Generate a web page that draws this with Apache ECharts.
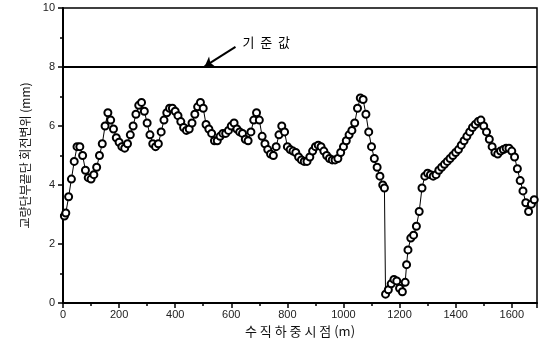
<!DOCTYPE html>
<html>
<head>
<meta charset="utf-8">
<script src="https://cdn.jsdelivr.net/npm/echarts@6/dist/echarts.min.js"></script>
<style>
  html, body { margin: 0; padding: 0; background: #fff; }
  #chart { width: 539px; height: 350px; }
</style>
</head>
<body>
<div id="chart"></div>
<script>
// 수직하중 위치 (m)
var positions = [
  5, 10, 20, 30, 40, 50, 60, 70, 80, 90,
  100, 110, 120, 130, 140, 150, 160, 170, 180, 190,
  200, 210, 220, 230, 240, 250, 260, 270, 280, 290,
  300, 310, 320, 330, 340, 350, 360, 370, 380, 390,
  400, 410, 420, 430, 440, 450, 460, 470, 480, 490,
  500, 510, 520, 530, 540, 550, 560, 570, 580, 590,
  600, 610, 620, 630, 640, 650, 660, 670, 680, 690,
  700, 710, 720, 730, 740, 750, 760, 770, 780, 790,
  800, 810, 820, 830, 840, 850, 860, 870, 880, 890,
  900, 910, 920, 930, 940, 950, 960, 970, 980, 990,
  1000, 1010, 1020, 1030, 1040, 1050, 1060, 1070, 1080, 1090,
  1100, 1110, 1120, 1130, 1140, 1146, 1150, 1160, 1170, 1180,
  1190, 1200, 1210, 1220, 1225, 1230, 1240, 1250, 1260, 1270,
  1280, 1290, 1300, 1310, 1320, 1330, 1340, 1350, 1360, 1370,
  1380, 1390, 1400, 1410, 1420, 1430, 1440, 1450, 1460, 1470,
  1480, 1490, 1500, 1510, 1520, 1530, 1540, 1550, 1560, 1570,
  1580, 1590, 1600, 1610, 1620, 1630, 1640, 1650, 1660, 1670, 1680
];
// 회전변위 (mm)
var rotation = [
  2.95, 3.05, 3.6, 4.2, 4.8, 5.3, 5.3, 5.0, 4.5, 4.25,
  4.2, 4.35, 4.6, 5.0, 5.4, 6.0, 6.45, 6.2, 5.9, 5.6,
  5.45, 5.3, 5.25, 5.4, 5.7, 6.0, 6.4, 6.7, 6.8, 6.5,
  6.1, 5.7, 5.4, 5.3, 5.4, 5.8, 6.2, 6.45, 6.6, 6.6,
  6.5, 6.35, 6.15, 5.95, 5.85, 5.9, 6.1, 6.4, 6.65, 6.8,
  6.6, 6.05, 5.9, 5.75, 5.5, 5.5, 5.65, 5.75, 5.75, 5.85,
  6.0, 6.1, 5.9, 5.8, 5.75, 5.55, 5.5, 5.8, 6.2, 6.45,
  6.2, 5.65, 5.4, 5.2, 5.05, 5.0, 5.3, 5.7, 6.0, 5.8,
  5.3, 5.2, 5.15, 5.1, 4.95, 4.85, 4.8, 4.8, 4.95, 5.15,
  5.3, 5.35, 5.3, 5.15, 5.0, 4.9, 4.85, 4.85, 4.9, 5.1,
  5.3, 5.5, 5.7, 5.85, 6.1, 6.6, 6.95, 6.9, 6.4, 5.8,
  5.3, 4.9, 4.6, 4.3, 4.0, 3.9, 0.3, 0.45, 0.65, 0.8,
  0.75, 0.5, 0.38, 0.7, 1.3, 1.8, 2.2, 2.3, 2.6, 3.1,
  3.9, 4.3, 4.4, 4.35, 4.3, 4.35, 4.5, 4.6, 4.7, 4.8,
  4.9, 5.0, 5.1, 5.2, 5.35, 5.5, 5.65, 5.8, 5.95, 6.05,
  6.15, 6.2, 6.0, 5.8, 5.55, 5.3, 5.1, 5.05, 5.15, 5.2,
  5.25, 5.25, 5.15, 4.95, 4.55, 4.15, 3.8, 3.4, 3.1, 3.35, 3.5
];
var xTicks = [0, 200, 400, 600, 800, 1000, 1200, 1400, 1600];
var yTicks = [0, 2, 4, 6, 8, 10];
var criterion = 8;

var points = [];
for (var i = 0; i < positions.length; i++) {
  points.push([positions[i], rotation[i]]);
}

var axisFont = { fontFamily: 'Liberation Sans', fontSize: 11, color: '#222' };

var myChart = echarts.init(document.getElementById('chart'));
var option = {
  animation: false,
  grid: {
    left: 63, right: 2, top: 8, bottom: 47,
    show: true, borderColor: '#000', borderWidth: 1.5
  },
  xAxis: {
    type: 'value',
    min: xTicks[0], max: 1690, interval: xTicks[1] - xTicks[0],
    name: '수 직 하 중 시 점 (m)',
    nameLocation: 'middle', nameGap: 21,
    nameTextStyle: { fontFamily: 'Noto Sans CJK KR', fontSize: 13, color: '#111' },
    axisLine: { lineStyle: { color: '#000', width: 2 } },
    axisTick: { inside: false, length: 5, lineStyle: { color: '#000', width: 1.5 } },
    minorTick: { show: true, splitNumber: 2, length: 3, lineStyle: { color: '#000', width: 1.5 } },
    axisLabel: Object.assign({
      margin: 6, showMaxLabel: false,
      formatter: function (v) { return String(v); }
    }, axisFont),
    splitLine: { show: false }
  },
  yAxis: {
    type: 'value',
    min: yTicks[0], max: yTicks[yTicks.length - 1], interval: 2,
    name: '교량단부끝단 회전변위 (mm)',
    nameLocation: 'middle', nameGap: 30,
    nameTextStyle: { fontFamily: 'Noto Sans CJK KR', fontSize: 12, color: '#111' },
    axisLine: { lineStyle: { color: '#000', width: 2 } },
    axisTick: { inside: false, length: 5, lineStyle: { color: '#000', width: 1.5 } },
    minorTick: { show: true, splitNumber: 2, length: 3, lineStyle: { color: '#000', width: 1.5 } },
    axisLabel: Object.assign({ margin: 8 }, axisFont),
    splitLine: { show: false }
  },
  series: [
    {
      type: 'line',
      data: points,
      symbol: 'circle',
      symbolSize: 7,
      showAllSymbol: true,
      lineStyle: { color: '#000', width: 1 },
      itemStyle: { color: '#fff', borderColor: '#000', borderWidth: 2 },
      z: 3,
      markLine: {
        silent: true,
        symbol: 'none',
        label: { show: false },
        lineStyle: { color: '#000', width: 2, type: 'solid' },
        data: [
          { yAxis: criterion },
          [
            { coord: [615, 8.68], symbol: 'none' },
            { coord: [505, 8.02], symbol: 'arrow', symbolSize: 9 }
          ]
        ]
      },
      markPoint: {
        silent: true,
        symbol: 'circle',
        symbolSize: 0,
        data: [{
          coord: [640, 8.85],
          label: {
            show: true, position: 'right', distance: 0,
            formatter: '기  준  값',
            fontFamily: 'Noto Sans CJK KR', fontSize: 13, color: '#000'
          }
        }]
      }
    }
  ]
};
myChart.setOption(option);
</script>
</body>
</html>
